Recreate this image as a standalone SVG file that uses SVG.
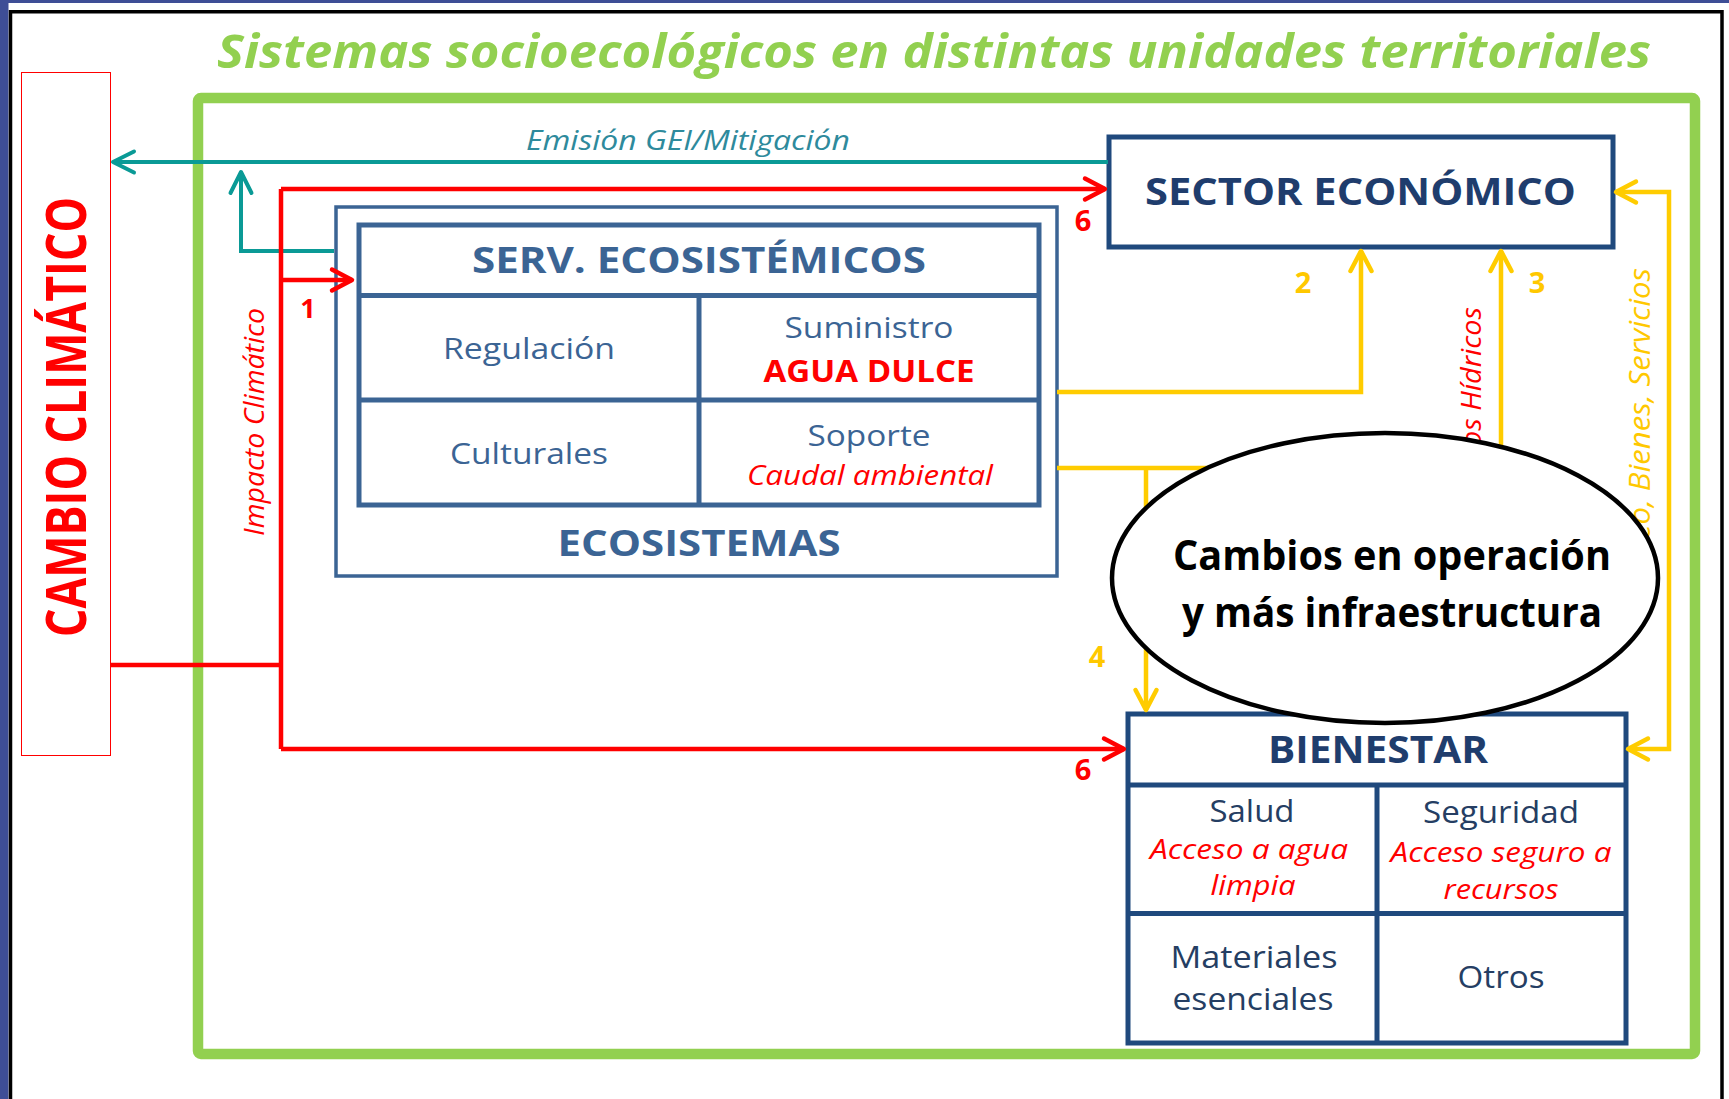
<svg xmlns="http://www.w3.org/2000/svg" width="1729" height="1099" viewBox="0 0 1729 1099">
<style>
  .f { font-family: "Open Sans", "Liberation Sans", sans-serif; }
  .b { font-weight: bold; }
  .i { font-style: italic; }
  .eco { fill: #3B6494; }
  .navy { fill: #1F3D6D; }
  .cell { fill: #253E63; }
  .red { fill: #FF0000; }
  .yel { fill: #FFC800; }
  .mid { text-anchor: middle; }
  .lr { fill: none; stroke: #FF0000; stroke-width: 4.5; }
  .ly { fill: none; stroke: #FFCC00; stroke-width: 4.5; }
  .lt { fill: none; stroke: #0A9A96; stroke-width: 4; }
</style>
<defs>
  <marker id="mr" viewBox="0 0 24 24" refX="22" refY="12" markerWidth="24" markerHeight="24" markerUnits="userSpaceOnUse" orient="auto" overflow="visible">
    <path d="M2,1.5 L22,12 L2,22.5" fill="none" stroke="#FF0000" stroke-width="4.5" stroke-linecap="round" stroke-linejoin="round"/>
  </marker>
  <marker id="my" viewBox="0 0 24 24" refX="22" refY="12" markerWidth="24" markerHeight="24" markerUnits="userSpaceOnUse" orient="auto-start-reverse" overflow="visible">
    <path d="M2,1.5 L22,12 L2,22.5" fill="none" stroke="#FFCC00" stroke-width="4.5" stroke-linecap="round" stroke-linejoin="round"/>
  </marker>
  <marker id="mt" viewBox="0 0 24 24" refX="22" refY="12" markerWidth="24" markerHeight="24" markerUnits="userSpaceOnUse" orient="auto" overflow="visible">
    <path d="M1,1.5 L22,12 L1,22.5" fill="none" stroke="#0A9A96" stroke-width="4" stroke-linecap="round" stroke-linejoin="round"/>
  </marker>
</defs>

<g id="frame">
  <rect x="0" y="0" width="1729" height="1099" fill="#FFFFFF"/>
  <rect x="0" y="0" width="8.5" height="1099" fill="#3E4E96"/>
  <rect x="0" y="0" width="1729" height="3" fill="#3E4E96"/>
  <path d="M10.5,1099 V11.7 H1722 V1099" fill="none" stroke="#000000" stroke-width="3.5"/>
  <text class="f b i" x="217" y="68" font-size="46" fill="#92D050" textLength="1434" lengthAdjust="spacingAndGlyphs">Sistemas socioecológicos en distintas unidades territoriales</text>
  <rect x="198" y="98" width="1497" height="956" rx="3" fill="none" stroke="#92D050" stroke-width="10.5"/>
</g>

<g id="cambio-climatico">
  <rect x="21.5" y="72.5" width="89" height="683" fill="#FFFFFF" stroke="#FF0000" stroke-width="1"/>
  <text class="f b red mid" transform="translate(86,417) rotate(-90)" font-size="56" textLength="440" lengthAdjust="spacingAndGlyphs">CAMBIO CLIMÁTICO</text>
</g>

<g id="ecosistemas">
  <rect x="336" y="207" width="721" height="369" fill="#FFFFFF" stroke="#3B6494" stroke-width="3.5"/>
  <text class="f b eco mid" x="699" y="556" font-size="36.5" textLength="283" lengthAdjust="spacingAndGlyphs">ECOSISTEMAS</text>
</g>

<g id="servicios-ecosistemicos">
  <rect x="359" y="225" width="680" height="280" fill="none" stroke="#3B6494" stroke-width="5"/>
  <path d="M359,295.5 H1039 M359,400 H1039 M699,295.5 V505" fill="none" stroke="#3B6494" stroke-width="5"/>
  <text class="f b eco mid" x="699" y="273" font-size="36.5" textLength="454" lengthAdjust="spacingAndGlyphs">SERV. ECOSISTÉMICOS</text>
  <text class="f eco mid" x="529" y="359" font-size="30" textLength="172" lengthAdjust="spacingAndGlyphs">Regulación</text>
  <text class="f eco mid" x="869" y="338" font-size="30" textLength="169" lengthAdjust="spacingAndGlyphs">Suministro</text>
  <text class="f b red mid" x="869" y="382" font-size="30" textLength="211" lengthAdjust="spacingAndGlyphs">AGUA DULCE</text>
  <text class="f eco mid" x="529" y="464" font-size="30" textLength="158" lengthAdjust="spacingAndGlyphs">Culturales</text>
  <text class="f eco mid" x="869" y="446" font-size="30" textLength="123" lengthAdjust="spacingAndGlyphs">Soporte</text>
  <text class="f i red mid" x="870" y="485" font-size="28" textLength="246" lengthAdjust="spacingAndGlyphs">Caudal ambiental</text>
</g>

<g id="sector-economico">
  <rect x="1109" y="137" width="504" height="110" fill="#FFFFFF" stroke="#1F497D" stroke-width="5"/>
  <text class="f b navy mid" x="1360.5" y="205" font-size="38" textLength="431" lengthAdjust="spacingAndGlyphs">SECTOR ECONÓMICO</text>
</g>

<g id="bienestar">
  <rect x="1128" y="714" width="498" height="329" fill="#FFFFFF" stroke="#1F497D" stroke-width="5"/>
  <path d="M1128,785 H1626 M1128,913.5 H1626 M1377,785 V1043" fill="none" stroke="#1F497D" stroke-width="5"/>
  <text class="f b navy mid" x="1378" y="763" font-size="37" textLength="220" lengthAdjust="spacingAndGlyphs">BIENESTAR</text>
  <text class="f cell mid" x="1252" y="822" font-size="31" textLength="85" lengthAdjust="spacingAndGlyphs">Salud</text>
  <text class="f i red mid" x="1249" y="859" font-size="27.5" textLength="198" lengthAdjust="spacingAndGlyphs">Acceso a agua</text>
  <text class="f i red mid" x="1253" y="895" font-size="27.5" textLength="85" lengthAdjust="spacingAndGlyphs">limpia</text>
  <text class="f cell mid" x="1501" y="823" font-size="31" textLength="156" lengthAdjust="spacingAndGlyphs">Seguridad</text>
  <text class="f i red mid" x="1501" y="862" font-size="27.5" textLength="221" lengthAdjust="spacingAndGlyphs">Acceso seguro a</text>
  <text class="f i red mid" x="1501" y="899" font-size="27.5" textLength="115" lengthAdjust="spacingAndGlyphs">recursos</text>
  <text class="f cell mid" x="1254" y="968" font-size="31" textLength="167" lengthAdjust="spacingAndGlyphs">Materiales</text>
  <text class="f cell mid" x="1253" y="1010" font-size="31" textLength="161" lengthAdjust="spacingAndGlyphs">esenciales</text>
  <text class="f cell mid" x="1501" y="988" font-size="31" textLength="87" lengthAdjust="spacingAndGlyphs">Otros</text>
</g>

<g id="connectors">
  <path class="lt" d="M1108,162 H113" marker-end="url(#mt)"/>
  <path class="lt" d="M334,251 H241 V172" marker-end="url(#mt)"/>
  <text class="f i" x="526" y="150" font-size="28" fill="#2E8A9C" textLength="324" lengthAdjust="spacingAndGlyphs">Emisión GEI/Mitigación</text>

  <path class="lr" d="M110,665 H281"/>
  <path class="lr" d="M281,189 V749"/>
  <path class="lr" d="M281,189 H1105" marker-end="url(#mr)"/>
  <path class="lr" d="M281,280 H352" marker-end="url(#mr)"/>
  <path class="lr" d="M281,749 H1124" marker-end="url(#mr)"/>
  <text class="f i red mid" transform="translate(264,422) rotate(-90)" font-size="26.5" textLength="228" lengthAdjust="spacingAndGlyphs">Impacto Climático</text>
  <text class="f b red mid" x="308" y="318" font-size="27">1</text>
  <text class="f b red mid" x="1083" y="231" font-size="29">6</text>
  <text class="f b red mid" x="1083" y="780" font-size="29">6</text>

  <path class="ly" d="M1057,392 H1361 V251" marker-end="url(#my)"/>
  <path class="ly" d="M1057,468 H1501"/>
  <path class="ly" d="M1501,468 V251" marker-end="url(#my)"/>
  <path class="ly" d="M1146,468 V710" marker-end="url(#my)"/>
  <path class="ly" d="M1616,192 H1669 V749 H1628" marker-start="url(#my)" marker-end="url(#my)"/>
  <text class="f b yel mid" x="1303" y="293" font-size="29">2</text>
  <text class="f b yel mid" x="1537" y="293" font-size="29">3</text>
  <text class="f b yel mid" x="1097" y="667" font-size="29">4</text>
  <text class="f i red" transform="translate(1481,447) rotate(-90)" font-size="28" textLength="140" lengthAdjust="spacingAndGlyphs">os Hídricos</text>
  <text class="f i yel" transform="translate(1650,540) rotate(-90)" font-size="29" textLength="272" lengthAdjust="spacingAndGlyphs">eo, Bienes, Servicios</text>
</g>

<g id="cambios-operacion">
  <ellipse cx="1385" cy="578" rx="273" ry="145" fill="#FFFFFF" stroke="#000000" stroke-width="4.5"/>
  <text class="f b mid" x="1392" y="570" font-size="42" fill="#000000" textLength="438" lengthAdjust="spacingAndGlyphs">Cambios en operación</text>
  <text class="f b mid" x="1392" y="627" font-size="42" fill="#000000" textLength="420" lengthAdjust="spacingAndGlyphs">y más infraestructura</text>
</g>
</svg>
